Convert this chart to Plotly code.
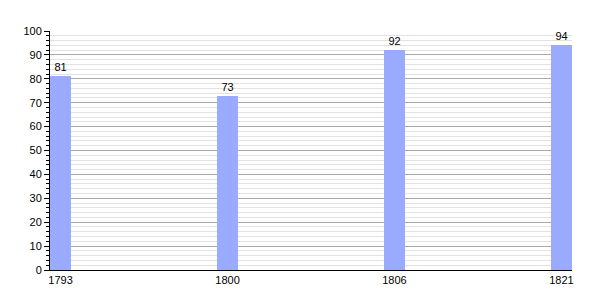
import plotly.graph_objects as go

years = ["1793", "1800", "1806", "1821"]
values = [81, 73, 92, 94]

pos = list(range(len(years)))

fig = go.Figure()
fig.add_trace(go.Bar(
    x=pos, y=values, width=0.126,
    marker=dict(color="#99aaff", line=dict(width=0)),
    text=[str(v) for v in values], textposition="outside",
    textfont=dict(size=11, color="#000000", family="Liberation Sans, Arial"),
    cliponaxis=False,
))

fig.update_layout(
    width=600, height=300,
    margin=dict(l=50, r=28, t=31, b=30),
    plot_bgcolor="white", paper_bgcolor="white",
    showlegend=False,
    font=dict(family="Liberation Sans, Arial", size=11, color="#000000"),
    bargap=0,
)
fig.update_xaxes(
    range=[-0.063, 3.063], tickvals=pos, ticktext=years,
    showgrid=False, zeroline=False,
    showline=True, linecolor="black", linewidth=1,
    ticks="", tickfont=dict(size=11),
)
fig.update_yaxes(
    range=[0, 100], dtick=10, tick0=0,
    showgrid=True, gridcolor="#aaaaaa", gridwidth=1,
    zeroline=False,
    showline=True, linecolor="black", linewidth=1,
    ticks="outside", ticklen=5, tickcolor="black",
    minor=dict(dtick=2, showgrid=True, gridcolor="#e2e2e2", gridwidth=1,
               ticks="outside", ticklen=3, tickcolor="black"),
    tickfont=dict(size=11),
)

fig.write_html("out.html")
